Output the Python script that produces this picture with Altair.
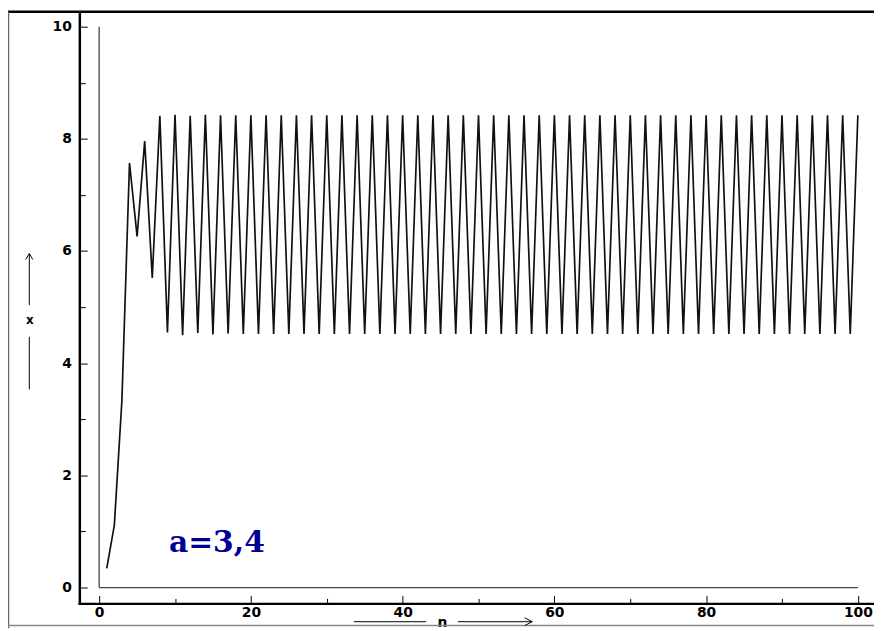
import altair as alt
import pandas as pd

# ---- data ----
n_values = list(range(1, 101))
x_values = [
    0.34, 1.11, 3.34, 7.57, 6.26, 7.96, 5.52, 8.41, 4.55, 8.43,
    4.50, 8.41, 4.54, 8.43, 4.51, 8.42, 4.53, 8.42, 4.52, 8.42,
    4.52, 8.42, 4.52, 8.42, 4.52, 8.42, 4.52, 8.42, 4.52, 8.42,
    4.52, 8.42, 4.52, 8.42, 4.52, 8.42, 4.52, 8.42, 4.52, 8.42,
    4.52, 8.42, 4.52, 8.42, 4.52, 8.42, 4.52, 8.42, 4.52, 8.42,
    4.52, 8.42, 4.52, 8.42, 4.52, 8.42, 4.52, 8.42, 4.52, 8.42,
    4.52, 8.42, 4.52, 8.42, 4.52, 8.42, 4.52, 8.42, 4.52, 8.42,
    4.52, 8.42, 4.52, 8.42, 4.52, 8.42, 4.52, 8.42, 4.52, 8.42,
    4.52, 8.42, 4.52, 8.42, 4.52, 8.42, 4.52, 8.42, 4.52, 8.42,
    4.52, 8.42, 4.52, 8.42, 4.52, 8.42, 4.52, 8.42, 4.52, 8.42,
]

x_major = [0, 20, 40, 60, 80, 100]
x_minor = [10, 30, 50, 70, 90]
y_major = [0, 2, 4, 6, 8, 10]
y_minor = [1, 3, 5, 7, 9]

ref_n_start = [0, 0]
ref_n_end = [0, 100]
ref_x_start = [0, 0]
ref_x_end = [10, 0]

annotation = "a=3,4"
x_title = "n"
y_title = "x"

# ---- layout (pixels) ----
PLOT_W, PLOT_H = 802, 597
PAD_L, PAD_T, PAD_B = 72, 1, 25
N0_PX, N_PX = 20.0, 7.657
Y0_PX, Y_PX = 16.0, 56.6

x_domain = [-N0_PX / N_PX, (PLOT_W - N0_PX) / N_PX]
y_domain = [-Y0_PX / Y_PX, (PLOT_H - Y0_PX) / Y_PX]
xs = alt.Scale(domain=x_domain, nice=False, zero=False)
ys = alt.Scale(domain=y_domain, nice=False, zero=False)

label_style = dict(labelFont="DejaVu Sans", labelFontWeight="bold",
                   labelFontSize=14, labelColor="black",
                   labelOverlap=False, labelFlush=False)

line_df = pd.DataFrame({"n": n_values, "x": x_values})
ref_df = pd.DataFrame({"n1": ref_n_start, "n2": ref_n_end,
                       "x1": ref_x_start, "x2": ref_x_end})
one = alt.Data(values=[{}])


def hrule(x1, x2, y, color="black", width=1.0):
    return alt.Chart(one).mark_rule(color=color, strokeWidth=width).encode(
        x=alt.value(x1), x2=alt.value(x2), y=alt.value(y))


def vrule(x, y1, y2, color="black", width=1.0):
    return alt.Chart(one).mark_rule(color=color, strokeWidth=width).encode(
        x=alt.value(x), y=alt.value(y1), y2=alt.value(y2))


def head(x, y, path, size):
    return alt.Chart(one).mark_point(
        shape=path, size=size, filled=False, color="black",
        strokeWidth=1, opacity=1).encode(x=alt.value(x), y=alt.value(y))


# frame of the panel
top_border = hrule(-PAD_L, PLOT_W, 0, "black", 2.5)
left_border = vrule(-PAD_L + 0.5, 0, PLOT_H + PAD_B, "#666666", 1.5)
bottom_border = hrule(-PAD_L, PLOT_W, PLOT_H + PAD_B - 2.7, "#888888", 1.5)

# arrows of the axis titles
y_arrow_low = vrule(-50.5, 328, 381)
y_arrow_up = vrule(-50.5, 244, 296)
y_arrow_head = head(-50.5, 244, "M-1.2,2L0,0L1.2,2", 36)
x_arrow_left = hrule(277, 350, 615.5)
x_arrow_right = hrule(382, 457, 615.5)
x_arrow_head = head(457, 615.5, "M-1.9,-1L0,0L-1.9,1", 64)

# reference lines at n=0 and x=0, carrying the axis lines and titles
ref = alt.Chart(ref_df).mark_rule(color="#444444", strokeWidth=1.3).encode(
    x=alt.X("n1:Q", scale=xs, axis=alt.Axis(
        orient="bottom", domain=True, domainColor="black", domainWidth=2.5,
        domainCap="square", ticks=False, labels=False, grid=False,
        title=x_title, titleFont="DejaVu Sans", titleFontSize=14,
        titleFontWeight="bold", titleColor="black", titleX=366, titleY=12,
        titleAlign="center", titleBaseline="top")),
    x2="n2:Q",
    y=alt.Y("x1:Q", scale=ys, axis=alt.Axis(
        orient="left", domain=True, domainColor="black", domainWidth=2.5,
        domainCap="square", ticks=False, labels=False, grid=False,
        title=y_title, titleFont="DejaVu Sans", titleFontSize=12,
        titleFontWeight="bold", titleColor="black", titleAngle=0,
        titleX=-50.5, titleY=310.5, titleAlign="center",
        titleBaseline="middle")),
    y2="x2:Q",
)

# minor ticks (inward)
minor = alt.Chart(line_df).mark_line(opacity=0).encode(
    x=alt.X("n:Q", scale=xs, axis=alt.Axis(
        orient="bottom", values=x_minor, offset=-5, tickSize=5,
        tickColor="black", tickWidth=1, labels=False, domain=False,
        grid=False, title=None)),
    y=alt.Y("x:Q", scale=ys, axis=alt.Axis(
        orient="left", values=y_minor, offset=-6, tickSize=6,
        tickColor="black", tickWidth=1, labels=False, domain=False,
        grid=False, title=None)),
)

# data line with major ticks and labels
series = alt.Chart(line_df).mark_line(color="#111111", strokeWidth=1.7).encode(
    x=alt.X("n:Q", scale=xs, axis=alt.Axis(
        orient="bottom", values=x_major, offset=-8, tickSize=8,
        tickColor="black", tickWidth=1, domain=False, grid=False,
        title=None, labelPadding=2, **label_style)),
    y=alt.Y("x:Q", scale=ys, axis=alt.Axis(
        orient="left", values=y_major, offset=-8, tickSize=8,
        tickColor="black", tickWidth=1, domain=False, grid=False,
        title=None, labelPadding=8, **label_style)),
)

text = alt.Chart(one).mark_text(
    text=annotation, font="DejaVu Serif", fontWeight="bold", fontSize=30,
    color="#000099", align="left", baseline="alphabetic").encode(
    x=alt.XDatum(9.2, type="quantitative", scale=xs, axis=None),
    y=alt.YDatum(0.64, type="quantitative", scale=ys, axis=None),
)

chart = alt.layer(
    top_border, left_border, bottom_border,
    y_arrow_low, y_arrow_up, y_arrow_head,
    x_arrow_left, x_arrow_right, x_arrow_head,
    ref, minor, series, text
).resolve_axis(x="independent", y="independent").properties(
    width=PLOT_W, height=PLOT_H,
    autosize=alt.AutoSizeParams(type="none"),
    padding={"left": PAD_L, "top": PAD_T, "right": 0, "bottom": PAD_B},
    background="white",
).configure_view(stroke=None)

chart.save("out.html", embed_options={"renderer": "svg", "actions": False})
